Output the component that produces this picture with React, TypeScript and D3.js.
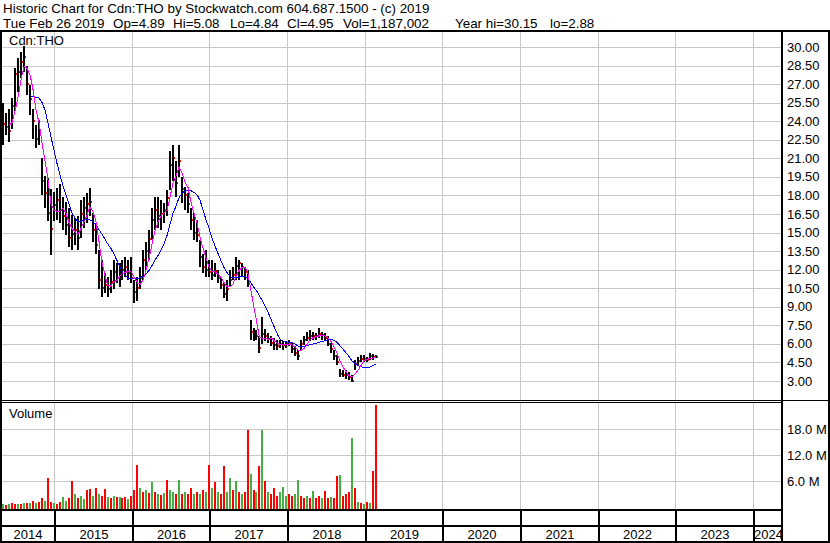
import React from "react";
import * as d3 from "d3";

// biweekly samples, first one in late April 2014
const START = new Date(2014, 3, 24);
const STEP_DAYS = 14;

const highs = [
  25.2, 25.5, 24.7, 25.0, 25.9, 28.3, 29.1, 29.6, 30.1, 28.5,
  26.9, 25.0, 23.7, 24.1, 21.0, 19.6, 19.4, 18.5, 18.3, 18.6,
  18.9, 17.9, 17.5, 17.0, 16.4, 16.2, 16.3, 17.6, 17.9, 18.2,
  18.6, 16.6, 15.8, 13.6, 12.8, 11.7, 11.4, 12.0, 12.8, 12.5,
  12.5, 12.8, 13.0, 12.8, 13.0, 11.2, 11.4, 12.2, 13.6, 14.2,
  15.2, 17.0, 17.9, 17.9, 17.6, 17.4, 18.4, 21.6, 22.1, 20.8,
  22.1, 19.5, 18.7, 18.2, 17.0, 16.6, 16.0, 14.4, 13.3, 13.6,
  12.8, 12.8, 12.5, 12.0, 11.4, 10.9, 11.2, 12.0, 12.2, 13.0,
  12.8, 12.5, 12.2, 12.0, 7.9, 7.3, 7.1, 6.6, 8.2, 7.2,
  6.9, 6.6, 6.5, 6.3, 6.3, 6.2, 6.2, 6.3, 6.1, 5.8,
  5.5, 6.3, 6.6, 7.0, 7.1, 7.0, 6.9, 7.3, 7.0, 6.9,
  6.6, 6.1, 5.5, 5.1, 4.0, 3.9, 3.9, 3.7, 3.5, 4.7,
  4.9, 5.1, 5.1, 4.9, 5.3, 5.2, 5.08,
];

const lows = [
  23.0, 22.1, 22.9, 22.3, 23.4, 24.8, 26.4, 27.5, 28.0, 26.1,
  24.5, 22.6, 21.8, 22.1, 18.0, 17.0, 15.9, 13.2, 15.9, 16.0,
  15.8, 15.2, 14.8, 13.8, 13.6, 14.0, 13.6, 14.6, 15.4, 15.8,
  16.3, 14.2, 13.3, 10.4, 9.8, 10.1, 9.8, 10.1, 10.4, 10.9,
  10.6, 11.2, 11.4, 11.2, 10.9, 9.3, 9.5, 10.4, 11.2, 12.0,
  12.8, 14.4, 15.2, 15.4, 15.2, 15.8, 16.3, 18.4, 19.2, 17.9,
  19.5, 17.4, 16.8, 16.6, 15.2, 14.4, 14.2, 12.2, 11.7, 11.4,
  11.4, 11.2, 11.4, 10.9, 10.4, 9.7, 9.5, 10.6, 11.2, 11.2,
  11.2, 11.4, 11.2, 10.6, 6.3, 6.2, 6.3, 5.3, 6.0, 6.2,
  6.1, 5.8, 5.5, 5.5, 5.7, 5.5, 5.7, 5.8, 5.3, 5.0,
  4.7, 5.5, 5.9, 6.2, 6.2, 6.3, 6.3, 6.5, 6.3, 6.2,
  5.8, 5.3, 4.7, 4.3, 3.3, 3.3, 3.2, 3.1, 2.88, 3.9,
  4.3, 4.5, 4.5, 4.5, 4.7, 4.7, 4.84,
];

const closes = [
  24.2, 23.8, 23.5, 23.2, 25.2, 27.8, 28.0, 28.8, 29.2, 27.0,
  25.8, 24.0, 22.6, 23.0, 19.2, 18.2, 16.6, 15.3, 17.2, 17.6,
  16.8, 16.3, 15.6, 14.6, 14.9, 15.2, 14.6, 16.5, 17.0, 17.3,
  17.5, 15.2, 14.0, 11.2, 10.5, 10.8, 10.4, 11.0, 11.8, 11.3,
  11.6, 12.0, 12.2, 11.7, 11.3, 10.2, 10.5, 11.3, 12.8, 13.5,
  14.5, 16.0, 16.8, 16.3, 16.5, 16.8, 17.8, 20.5, 21.0, 19.0,
  20.8, 18.5, 18.0, 17.3, 16.0, 15.0, 14.8, 13.0, 12.2, 12.0,
  11.8, 11.6, 11.9, 11.3, 10.8, 10.0, 10.4, 11.2, 11.6, 12.3,
  12.5, 12.2, 11.8, 11.0, 7.0, 6.8, 6.6, 5.7, 6.8, 6.6,
  6.4, 6.1, 5.9, 5.8, 6.0, 5.9, 6.0, 6.1, 5.6, 5.3,
  5.0, 6.0, 6.3, 6.5, 6.6, 6.6, 6.6, 6.8, 6.7, 6.5,
  6.0, 5.6, 5.0, 4.5, 3.6, 3.5, 3.5, 3.3, 3.0, 4.4,
  4.6, 4.8, 4.8, 4.7, 5.0, 4.9, 4.95,
];

// volume in millions
const volumes = [
  0.6, 0.8, 0.5, 0.7, 0.9, 0.6, 0.8, 0.7, 0.9, 1.0,
  1.0, 1.4, 0.9, 1.2, 2.0, 1.5, 6.6, 1.2, 1.0, 0.8,
  1.1, 2.2, 1.5, 2.0, 6.0, 3.0, 2.0, 2.5, 1.8, 3.9,
  4.2, 2.5, 4.4, 3.0, 2.5, 4.2, 2.4, 2.0, 2.6, 2.2,
  2.4, 2.0, 2.2, 1.8, 2.5, 4.0, 9.7, 4.5, 3.5, 4.0,
  3.2, 5.8, 3.5, 3.0, 2.8, 3.2, 6.2, 4.0, 3.5, 3.0,
  6.2, 3.0, 3.5, 3.0, 4.5, 3.0, 3.5, 3.0, 4.0, 3.5,
  9.7, 4.5, 5.8, 3.5, 3.0, 9.5, 3.5, 6.6, 4.0, 6.0,
  3.5, 3.0, 3.5, 17.8, 7.6, 4.0, 3.5, 9.5, 17.8, 6.0,
  3.5, 3.0, 4.5, 2.5, 3.5, 4.6, 2.5, 3.0, 2.5, 3.0,
  6.2, 2.5, 2.0, 2.5, 2.0, 3.8, 2.0, 2.5, 2.0, 3.8,
  2.0, 2.2, 2.0, 7.1, 7.3, 2.5, 3.0, 3.5, 15.9, 4.4,
  1.2, 1.0, 0.8, 1.2, 1.0, 8.4, 23.5,
];
// r = down, g = up
const volSides =
  "rgrgrrgrgr" + "grgrrgrrgr" + "rggrrgrggr" + "rgrgrrgrgr" +
  "grrgrrrgrg" + "rgrgrgrggr" + "grgrrgrgrg" + "rgrgrrggrg" +
  "rgrrgrgrgr" + "grrrgggrrg" + "grrgrgrrgr" + "rgrrgrrrgr" + "grgrgrr";

const priceTicks = [30, 28.5, 27, 25.5, 24, 22.5, 21, 19.5, 18, 16.5, 15, 13.5, 12, 10.5, 9, 7.5, 6, 4.5, 3];
const volTicks = [6, 12, 18];
const years = [2014, 2015, 2016, 2017, 2018, 2019, 2020, 2021, 2022, 2023, 2024];

const titleLine = "Historic Chart for Cdn:THO by Stockwatch.com 604.687.1500 - (c) 2019";
const quoteFields = ["Tue Feb 26 2019", "Op=4.89", "Hi=5.08", "Lo=4.84", "Cl=4.95", "Vol=1,187,002", "Year hi=30.15", "lo=2.88"];

// layout
const W = 830;
const H = 543;
const plotR = 782;
const priceTop = 32;
const priceBot = 400;
const volBot = 509;
const axisMid = 525;
const fieldX = [3, 113, 173, 230, 287, 343, 455, 550];
const FONT = "'Liberation Sans', Arial, sans-serif";

const movingAvg = (vals: number[], n: number) =>
  vals.map((_, i) => (i < n - 1 ? null : d3.mean(vals.slice(i - n + 1, i + 1)) as number));

export default function App() {
  const dates = closes.map((_, i) => d3.timeDay.offset(START, i * STEP_DAYS));
  const x = d3.scaleTime().domain([new Date(2014, 3, 22), new Date(2024, 4, 16)]).range([0, plotR]);
  const yP = d3.scaleLinear().domain([3, 30]).range([381, 47]);
  const yV = d3.scaleLinear().domain([0, 24]).range([507, 403]);

  const maShort = movingAvg(closes, 4);
  const maLong = movingAvg(closes, 11);
  const maLine = d3
    .line<number | null>()
    .defined((d) => d != null)
    .x((_, i) => x(dates[i]))
    .y((d) => yP(d as number));

  const yearStarts = years.map((y) => new Date(y, 0, 1));
  const yearX = yearStarts.map((d) => Math.max(0, Math.round(x(d))));
  const yearEdges = yearX.slice(1).filter((v) => v < plotR);

  return (
    <svg
      width={W}
      height={H}
      style={{ position: "absolute", left: 0, top: 0, background: "#fff" }}
      fontFamily={FONT}
      fontSize={13}
    >
      {/* header */}
      <g fontSize={13.4}>
        <text x={3} y={13}>{titleLine}</text>
        {quoteFields.map((f, i) => (
          <text key={f} x={fieldX[i]} y={28}>{f}</text>
        ))}
      </g>

      {/* grid */}
      <g stroke="#c8c8c8" strokeWidth={1} shapeRendering="crispEdges">
        {priceTicks.map((t) => (
          <line key={t} x1={0} x2={plotR} y1={Math.round(yP(t)) + 0.5} y2={Math.round(yP(t)) + 0.5} />
        ))}
        {volTicks.map((t) => (
          <line key={t} x1={0} x2={plotR} y1={Math.round(yV(t)) + 0.5} y2={Math.round(yV(t)) + 0.5} />
        ))}
        {yearEdges.map((v) => (
          <g key={v}>
            <line x1={v + 0.5} x2={v + 0.5} y1={priceTop} y2={priceBot} />
            <line x1={v + 0.5} x2={v + 0.5} y1={403} y2={volBot} />
          </g>
        ))}
      </g>

      {/* price bars */}
      <g shapeRendering="crispEdges">
        {closes.map((c, i) => {
          const cx = Math.round(x(dates[i]));
          const top = Math.round(yP(highs[i]));
          const bot = Math.round(yP(lows[i]));
          return (
            <g key={i}>
              <rect x={cx - 1} y={top} width={2} height={Math.max(1, bot - top)} fill="#000" />
              <rect x={cx + 1} y={Math.round(yP(c)) - 1} width={1} height={2} fill="#ff0000" />
            </g>
          );
        })}
      </g>

      {/* moving averages */}
      <path d={maLine(maLong) || ""} fill="none" stroke="#0000ff" strokeWidth={1} shapeRendering="crispEdges" />
      <path d={maLine(maShort) || ""} fill="none" stroke="#ff00ff" strokeWidth={1} shapeRendering="crispEdges" />

      {/* volume */}
      <g shapeRendering="crispEdges">
        {volumes.map((v, i) => {
          const cx = Math.round(x(dates[i]));
          const top = Math.round(yV(v));
          return (
            <rect
              key={i}
              x={cx - 1}
              y={top}
              width={2}
              height={volBot - top}
              fill={volSides[i] === "g" ? "#44b044" : "#ff0000"}
            />
          );
        })}
      </g>

      <text x={9} y={45}>Cdn:THO</text>
      <text x={9} y={418}>Volume</text>

      {/* frame */}
      <g fill="#000" shapeRendering="crispEdges">
        <rect x={0} y={30} width={W} height={2} />
        <rect x={0} y={30} width={2} height={H - 30} />
        <rect x={plotR - 1} y={30} width={2} height={H - 30} />
        <rect x={W - 2} y={30} width={2} height={H - 30} />
        <rect x={0} y={priceBot} width={W} height={1} />
        <rect x={0} y={priceBot + 2} width={plotR} height={1} />
        <rect x={0} y={volBot} width={plotR} height={2} />
        <rect x={0} y={axisMid} width={plotR} height={2} />
        <rect x={0} y={H - 2} width={W} height={2} />
        {yearEdges.map((v) => (
          <rect key={v} x={v} y={volBot} width={2} height={H - volBot} />
        ))}
      </g>

      {/* axis labels */}
      {priceTicks.map((t) => (
        <text key={t} x={787} y={yP(t) + 4.5}>{t.toFixed(2)}</text>
      ))}
      {volTicks.map((t) => (
        <text key={t} x={787} y={yV(t) + 4.5}>{`${t.toFixed(1)} M`}</text>
      ))}
      {years.map((y, i) => {
        const left = yearX[i];
        const right = i + 1 < yearX.length ? Math.min(plotR, yearX[i + 1]) : plotR;
        return (
          <text key={y} x={(left + right) / 2 + 1} y={539} textAnchor="middle">{String(y)}</text>
        );
      })}
    </svg>
  );
}
